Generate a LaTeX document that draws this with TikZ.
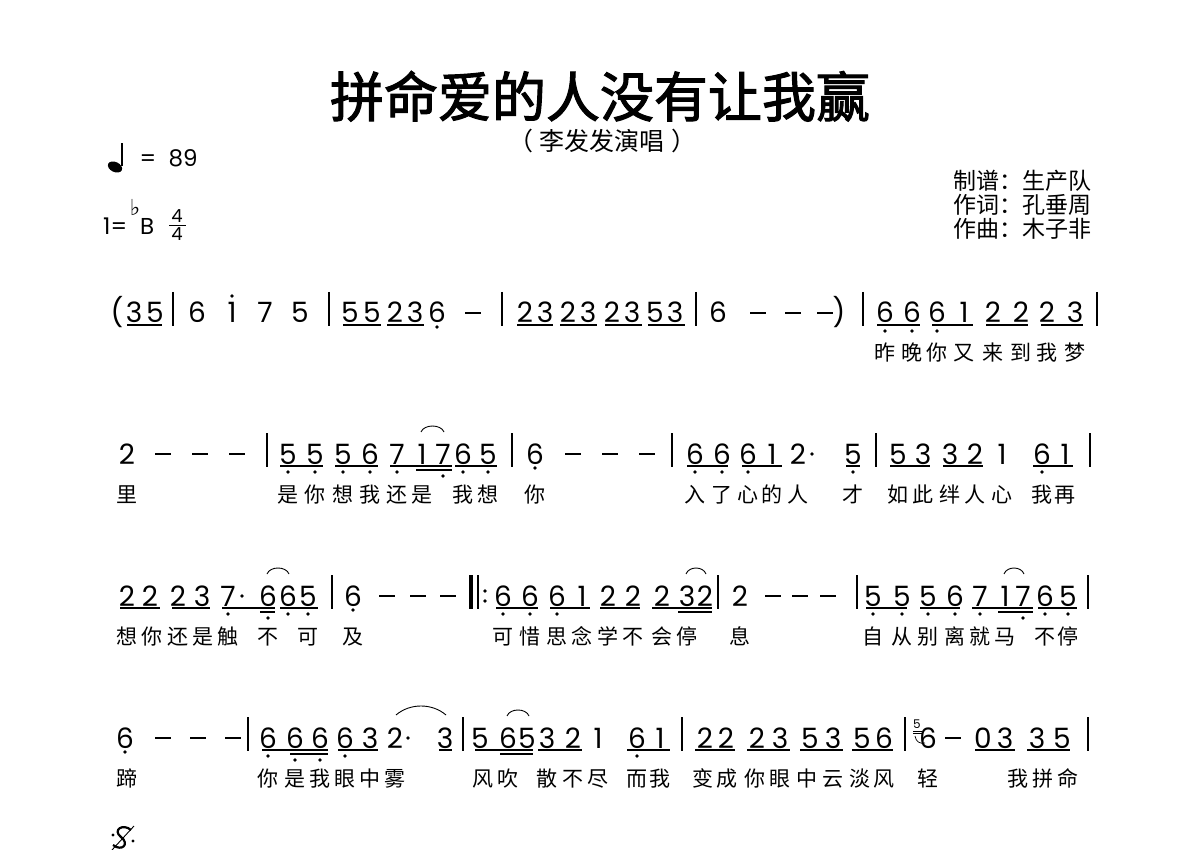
\documentclass[tikz,border=0pt]{standalone}
\usepackage{fontspec}
\newfontfamily\cjk{Noto Sans CJK SC}
\newfontfamily\cjktitle[FakeBold=2]{Noto Sans CJK SC}
\newfontfamily\numfont{Poppins}
\newfontfamily\symfont{DejaVu Sans}
% pieces of one row of the score: #1 is the row's middle line
\newcommand*\rownotes[2]{\foreach \x/\dig in {#2}{\node[note] (n#1-\x) at (\x,#1+10) {\dig};}}
\newcommand*\rowwords[2]{\foreach \x/\lyr in {#2}{\node[word] (w#1-\x) at (\x,#1+48) {\lyr};}}
\newcommand*\rowbeams[3]{\foreach \a/\b in {#3}{\draw[beam] (\a,#1+#2) -- (\b,#1+#2);}}
\newcommand*\rowbars[2]{\foreach \x in {#2}{\draw[barline] (\x,#1-21) -- (\x,#1+13);}}
\newcommand*\rowholds[2]{\foreach \x in {#2}{\draw[hold] (\x-8,#1) -- (\x+8,#1);}}
\newcommand*\rowdots[3]{\foreach \x in {#3}{\fill (\x,#1+#2) circle (1.8pt);}}
\newcommand*\rowslur[3]{\draw[tie] (#2,#1-22) .. controls (#2+3,#1-30) and (#3-3,#1-30) .. (#3,#1-22);}

\begin{document}
\begin{tikzpicture}[x=1pt,y=-1pt,
  note/.style={anchor=base,inner sep=0pt,font=\numfont\fontsize{28}{28}\selectfont},
  word/.style={anchor=base,inner sep=0pt,font=\cjk\fontsize{21}{21}\selectfont},
  credit/.style={anchor=base west,inner sep=0pt,font=\cjk\fontsize{23}{23}\selectfont},
  small/.style={anchor=base,inner sep=0pt,font=\numfont\fontsize{23}{23}\selectfont},
  beam/.style={line width=1.1pt},
  barline/.style={line width=1.2pt},
  hold/.style={line width=2.4pt},
  tie/.style={line width=0.9pt}]
\useasboundingbox[fill=white] (0,0) rectangle (1200,850);

% heading
\node[anchor=base,inner sep=0pt,font=\cjktitle\fontsize{54}{54}\selectfont] (title) at (600,117) {拼命爱的人没有让我赢};
\node[anchor=base,inner sep=0pt,font=\cjk\fontsize{25}{25}\selectfont] (singer) at (602,151) {李发发演唱};
\node[anchor=base,inner sep=0pt,font=\cjk\fontsize{25}{25}\selectfont] (lparen) at (521,151) {（};
\node[anchor=base,inner sep=0pt,font=\cjk\fontsize{25}{25}\selectfont] (rparen) at (684,151) {）};
\node[credit] (scorer) at (953,190) {制谱：生产队};
\node[credit] (lyricist) at (953,214) {作词：孔垂周};
\node[credit] (composer) at (953,238) {作曲：木子非};

% tempo and key
\fill[rotate around={-25:(115,167)}] (115,167) ellipse [x radius=7.5pt, y radius=5pt];
\draw[line width=1.6pt] (121.8,166) -- (121.8,143);
\node[small] (equals) at (148,167) {=};
\node[small] (bpm) at (183,167) {89};
\node[small,anchor=base west] (keyone) at (103,235) {1=};
\node[small,anchor=base west] (keyB) at (140,235) {B};
\node[inner sep=0pt,font=\symfont\fontsize{22}{22}\selectfont] (flat) at (135,207) {♭};
\node[note,font=\numfont\fontsize{18}{18}\selectfont] (beatsup) at (177,223) {4};
\node[note,font=\numfont\fontsize{18}{18}\selectfont] (beatsdown) at (177,241) {4};
\draw[line width=1pt] (169,226) -- (186,226);

% row 1
\node[note] (open) at (117,323) {(};
\node[note] (close) at (839,323) {)};
\rownotes{313}{134/3,155/5,197/6,232/1,265/7,300/5,350/5,372/5,395/2,415/3,437/6,525/2,545/3,568/2,588/3,612/2,632/3,655/5,675/3,718/6,885/6,912/6,937/6,964/1,993/2,1021/2,1047/2,1075/3}
\rowholds{313}{473,758,793,825}
\rowbars{313}{173,329,502,696,863,1097}
\rowbeams{313}{12}{127/162,343/381,387/424,517/553,560/597,605/642,648/685,877/920,932/973,986/1028,1041/1083}
\rowdots{313}{14}{437}
\rowdots{313}{18}{885,912,937}
\rowdots{313}{-17}{232}
\rowwords{313}{885/昨,912/晚,937/你,964/又,993/来,1021/到,1047/我,1075/梦}

% row 2
\rownotes{454}{127/2,288/5,315/5,343/5,370/6,397/7,422/1,443/7,463/6,488/5,535/6,695/6,722/6,748/6,772/1,798/2,853/5,898/5,923/3,950/3,975/2,1002/1,1042/6,1065/1}
\rowholds{454}{163,200,237,573,610,647}
\rowbars{454}{267,512,672,876,1090}
\rowbeams{454}{12}{280/323,335/378,390/452,455/497,687/728,742/782,846/860,890/930,943/983,1033/1073}
\rowbeams{454}{16}{416/452}
\rowdots{454}{18}{288,315,343,370,397,463,488,695,722,748,853,1042}
\rowdots{454}{22}{443}
\rowdots{454}{14}{535}
\rowdots{454}{0}{812}
\rowslur{454}{421}{444}
\rowwords{454}{127/里,288/是,315/你,343/想,370/我,397/还,422/是,463/我,488/想,535/你,695/入,722/了,748/心,772/的,798/人,853/才,898/如,923/此,950/绊,975/人,1002/心,1042/我,1065/再}

% row 3
\rownotes{596}{127/2,150/2,178/2,202/3,228/7,268/6,288/6,308/5,353/6,503/6,530/6,557/6,582/1,608/2,633/2,662/2,687/3,705/2,740/2,873/5,902/5,928/5,955/6,980/7,1005/1,1023/7,1045/6,1068/5}
\rowholds{596}{387,418,448,773,800,828}
\rowbars{596}{332,478,718,857,1088}
\draw[line width=4pt] (471,575) -- (471,609);
\rowdots{596}{-5}{485}
\rowdots{596}{5}{485}
\rowbeams{596}{12}{120/160,172/210,222/275,280/318,496/538,550/590,600/640,652/712,866/907,920/960,972/1033,1038/1077}
\rowbeams{596}{16}{260/275,678/712,998/1033}
\rowdots{596}{18}{228,288,308,503,530,557,873,902,928,955,980,1045,1068}
\rowdots{596}{22}{268,1023}
\rowdots{596}{14}{353}
\rowdots{596}{0}{242}
\rowslur{596}{267}{289}
\rowslur{596}{686}{706}
\rowslur{596}{1004}{1024}
\rowwords{596}{127/想,152/你,178/还,203/是,228/触,268/不,308/可,353/及,503/可,530/惜,557/思,582/念,608/学,633/不,662/会,687/停,740/息,873/自,902/从,928/别,955/离,980/就,1005/马,1045/不,1068/停}

% row 4
\rownotes{738}{125/6,268/6,295/6,320/6,345/6,370/3,395/2,445/3,480/5,508/6,527/5,547/3,573/2,598/1,637/6,660/1,705/2,726/2,757/2,780/3,810/5,833/3,862/5,884/6,928/6,983/0,1005/3,1037/3,1062/5}
\rowholds{738}{163,198,233,953}
\rowbars{738}{248,463,682,905,1088}
\rowbeams{738}{12}{262/328,338/378,439/452,475/533,538/582,627/670,695/735,747/790,800/843,852/893,975/1015,1027/1070}
\rowbeams{738}{16}{290/328,500/533}
\rowdots{738}{18}{268,345,637}
\rowdots{738}{22}{295,320}
\rowdots{738}{14}{125}
\rowdots{738}{0}{408}
\draw[tie] (396,715) .. controls (410,703) and (432,703) .. (446,715);
\rowslur{738}{507}{529}
% grace note before the 6
\node[note,font=\numfont\fontsize{12}{12}\selectfont] (grace) at (917,728) {5};
\draw[line width=0.7pt] (913,731) -- (922,731) (913,733.5) -- (922,733.5);
\draw[line width=0.7pt] (915,736) .. controls (916,742) and (920,744) .. (925,743);
\rowwords{738}{127/蹄,268/你,295/是,320/我,345/眼,370/中,395/雾,483/风,508/吹,547/散,573/不,598/尽,637/而,660/我,703/变,727/成,755/你,780/眼,807/中,833/云,860/淡,884/风,928/轻,1018/我,1043/拼,1068/命}

% segno
\draw[line width=2.2pt] (131,830) .. controls (123,823) and (112,830) .. (121,837) .. controls (130,844) and (122,852) .. (113,845);
\draw[line width=0.9pt] (112,850) -- (134,826);
\fill (113,835) circle (1.7pt);
\fill (133,841) circle (1.7pt);
\end{tikzpicture}
\end{document}
